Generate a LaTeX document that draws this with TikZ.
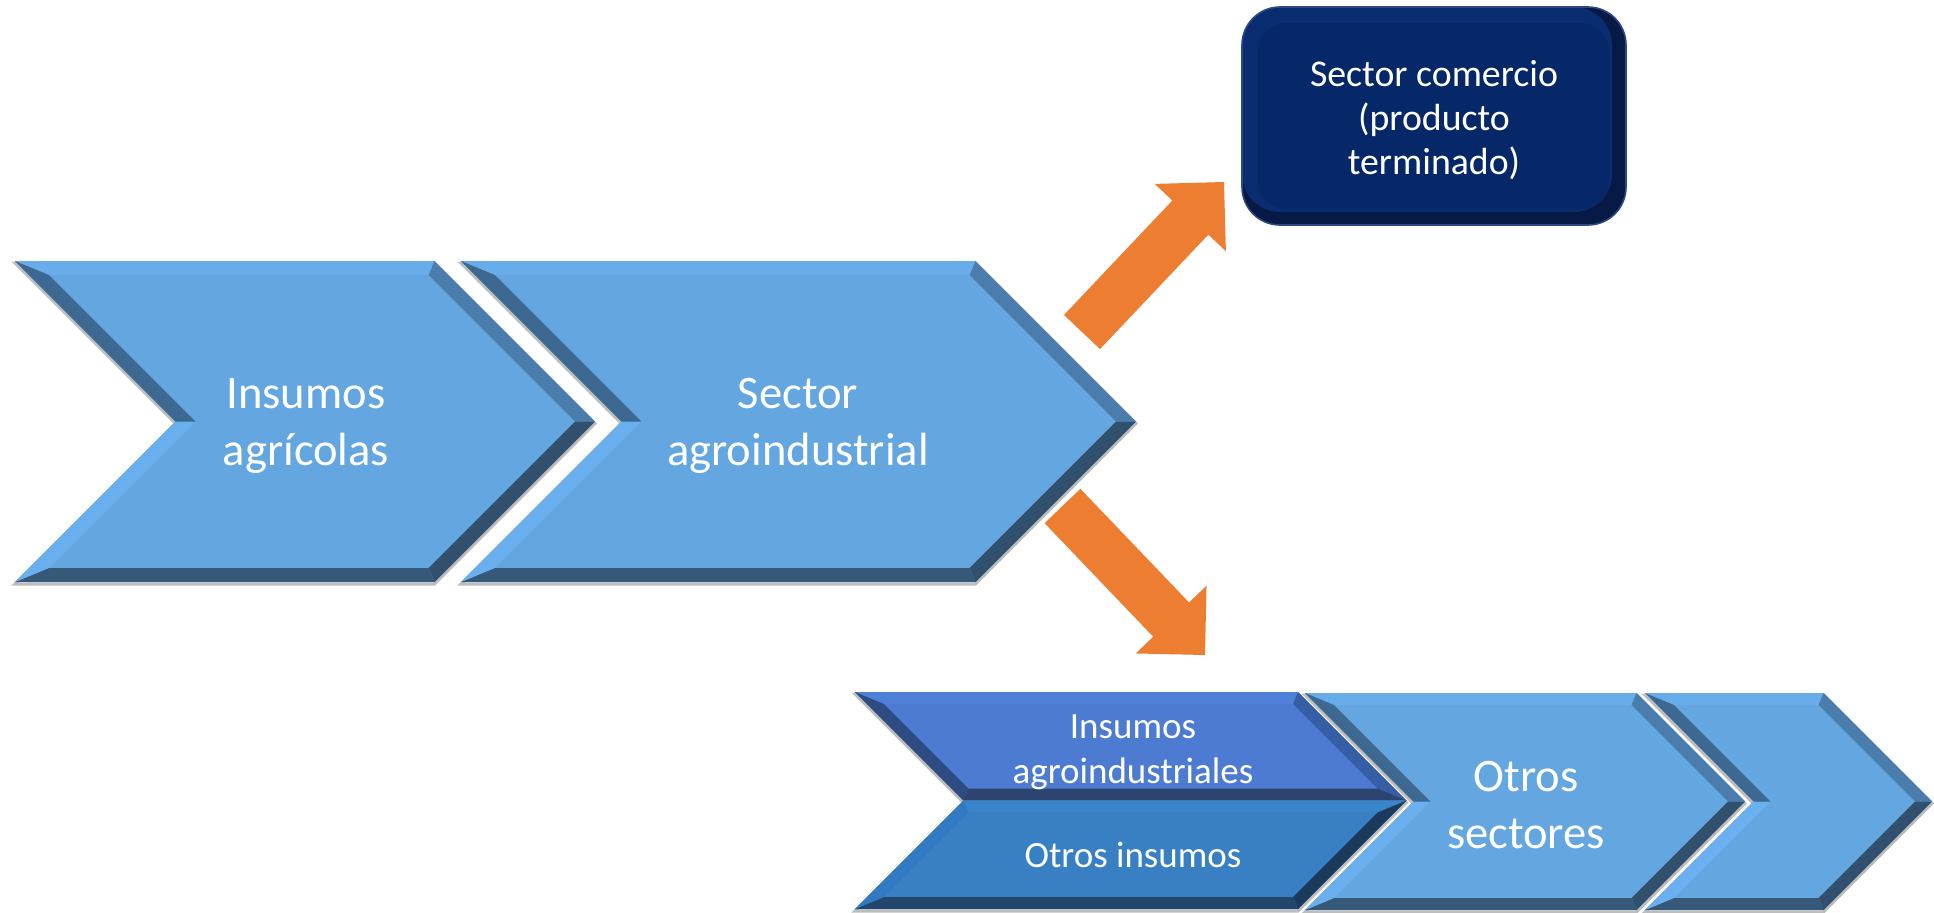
\documentclass[tikz,border=0pt]{standalone}
\usepackage{fontspec}
\setmainfont{Carlito}
\usetikzlibrary{calc}
% light blue chevrons
\definecolor{lbmain}{HTML}{64A6E0}
\definecolor{lbtop}{HTML}{68ADEA}
\definecolor{lbur}{HTML}{4A7DAB}
\definecolor{lblr}{HTML}{30506E}
\definecolor{lbbot}{HTML}{375979}
\definecolor{lbll}{HTML}{6AB0EE}
\definecolor{lbul}{HTML}{3C6891}
% insumos agroindustriales
\definecolor{aimain}{HTML}{4C7BD1}
\definecolor{aitop}{HTML}{5081D8}
\definecolor{aiur}{HTML}{365EA4}
\definecolor{aibot}{HTML}{2D4370}
\definecolor{aiul}{HTML}{2F4C82}
% otros insumos
\definecolor{oimain}{HTML}{3880C3}
\definecolor{oitop}{HTML}{3A84C9}
\definecolor{oilr}{HTML}{1C3A5C}
\definecolor{oibot}{HTML}{22466C}
\definecolor{oill}{HTML}{3179C2}
% box
\definecolor{boxmain}{HTML}{072868}
\definecolor{boxlight}{HTML}{0A2C70}
\definecolor{boxdark}{HTML}{061A45}
\definecolor{boxedge}{HTML}{2B4A80}
\definecolor{arroworange}{HTML}{ED7D31}
\definecolor{shadowgrey}{HTML}{BDBDBD}

\tikzset{
  shadowline/.style={draw=shadowgrey, line width=1.5pt, line join=miter},
  bigtext/.style={text=white, align=center, inner sep=0pt, font=\fontsize{23.3}{28.5}\selectfont},
  smalltext/.style={text=white, align=center, inner sep=0pt, font=\fontsize{18.5}{22.5}\selectfont},
  boxtext/.style={text=white, align=center, inner sep=0pt, font=\fontsize{18.9}{22}\selectfont},
}

% #1 L, #2 T, #3 B, #4 R, #5 bevel, #6 colour prefix
\newcommand{\fullchev}[6]{%
\pgfmathsetmacro{\chvD}{(#3-#2)/2}%
\pgfmathsetmacro{\chvM}{(#3+#2)/2}%
\pgfmathsetmacro{\chvTip}{#4+\chvD}%
\pgfmathsetmacro{\chvNotch}{#1+\chvD}%
\pgfmathsetmacro{\chvA}{#1+2.414*#5}%
\pgfmathsetmacro{\chvB}{#4-0.414*#5}%
\pgfmathsetmacro{\chvC}{\chvTip-1.414*#5}%
\pgfmathsetmacro{\chvE}{\chvNotch+1.414*#5}%
\pgfmathsetmacro{\chvTi}{#2+#5}%
\pgfmathsetmacro{\chvBi}{#3-#5}%
\begin{scope}[shift={(0,2)}]
\draw[shadowline] (#1,#2)--(#4,#2)--(\chvTip,\chvM)--(#4,#3)--(#1,#3)--(\chvNotch,\chvM)--cycle;
\end{scope}
\fill[#6main] (#1,#2)--(#4,#2)--(\chvTip,\chvM)--(#4,#3)--(#1,#3)--(\chvNotch,\chvM)--cycle;
\fill[#6top] (#1,#2)--(#4,#2)--(\chvB,\chvTi)--(\chvA,\chvTi)--cycle;
\fill[#6ur] (#4,#2)--(\chvTip,\chvM)--(\chvC,\chvM)--(\chvB,\chvTi)--cycle;
\fill[#6lr] (\chvTip,\chvM)--(#4,#3)--(\chvB,\chvBi)--(\chvC,\chvM)--cycle;
\fill[#6bot] (#4,#3)--(#1,#3)--(\chvA,\chvBi)--(\chvB,\chvBi)--cycle;
\fill[#6ll] (#1,#3)--(\chvNotch,\chvM)--(\chvE,\chvM)--(\chvA,\chvBi)--cycle;
\fill[#6ul] (\chvNotch,\chvM)--(#1,#2)--(\chvA,\chvTi)--(\chvE,\chvM)--cycle;
}

% split chevron: #6 upper prefix, #7 lower prefix
\newcommand{\halfpair}[7]{%
\pgfmathsetmacro{\chvD}{(#3-#2)/2}%
\pgfmathsetmacro{\chvM}{(#3+#2)/2}%
\pgfmathsetmacro{\chvTip}{#4+\chvD}%
\pgfmathsetmacro{\chvNotch}{#1+\chvD}%
\pgfmathsetmacro{\chvA}{#1+2.414*#5}%
\pgfmathsetmacro{\chvB}{#4-0.414*#5}%
\pgfmathsetmacro{\chvC}{\chvTip-2.414*#5}%
\pgfmathsetmacro{\chvE}{\chvNotch+0.414*#5}%
\pgfmathsetmacro{\chvTi}{#2+#5}%
\pgfmathsetmacro{\chvBi}{#3-#5}%
\pgfmathsetmacro{\chvMu}{\chvM-#5}%
\pgfmathsetmacro{\chvMd}{\chvM+#5}%
\begin{scope}[shift={(0,2)}]
\draw[shadowline] (#1,#2)--(#4,#2)--(\chvTip,\chvM)--(#4,#3)--(#1,#3)--(\chvNotch,\chvM)--cycle;
\end{scope}
% upper half
\fill[#6main] (#1,#2)--(#4,#2)--(\chvTip,\chvM)--(\chvNotch,\chvM)--cycle;
\fill[#6top] (#1,#2)--(#4,#2)--(\chvB,\chvTi)--(\chvA,\chvTi)--cycle;
\fill[#6ur] (#4,#2)--(\chvTip,\chvM)--(\chvC,\chvMu)--(\chvB,\chvTi)--cycle;
\fill[#6bot] (\chvTip,\chvM)--(\chvNotch,\chvM)--(\chvE,\chvMu)--(\chvC,\chvMu)--cycle;
\fill[#6ul] (\chvNotch,\chvM)--(#1,#2)--(\chvA,\chvTi)--(\chvE,\chvMu)--cycle;
% lower half
\fill[#7main] (\chvNotch,\chvM)--(\chvTip,\chvM)--(#4,#3)--(#1,#3)--cycle;
\fill[#7top] (\chvNotch,\chvM)--(\chvTip,\chvM)--(\chvC,\chvMd)--(\chvE,\chvMd)--cycle;
\fill[#7lr] (\chvTip,\chvM)--(#4,#3)--(\chvB,\chvBi)--(\chvC,\chvMd)--cycle;
\fill[#7bot] (#4,#3)--(#1,#3)--(\chvA,\chvBi)--(\chvB,\chvBi)--cycle;
\fill[#7ll] (#1,#3)--(\chvNotch,\chvM)--(\chvE,\chvMd)--(\chvA,\chvBi)--cycle;
}

% block arrow from tail coordinate #1 to head coordinate #2
\newcommand{\blockarrow}[2]{%
\coordinate (#1neck) at ($(#2)!24.5pt!(#1)$);
\fill[arroworange] ($(#1)!12.4pt!90:(#2)$) -- ($(#1neck)!12.4pt!-90:(#1)$)
  -- ($(#1neck)!24.5pt!-90:(#1)$) -- (#2) -- ($(#1neck)!24.5pt!90:(#1)$)
  -- ($(#1neck)!12.4pt!90:(#1)$) -- ($(#1)!12.4pt!-90:(#2)$) -- cycle;
}

\begin{document}
\begin{tikzpicture}[x=0.5pt,y=-0.5pt]
\useasboundingbox (0,0) rectangle (1934,912);

% top row
\fullchev{15}{261}{582}{434.5}{14}{lb}
\fullchev{461}{261}{582}{975.5}{14}{lb}
\node[bigtext] (agricolas) at (306,426) {Insumos\\agrícolas};
\node[bigtext] (agroind) at (798,426) {Sector\\agroindustrial};

% commerce box
\fill[boxdark, rounded corners=19pt] (1242,7) rectangle (1626,225);
\fill[boxlight, rounded corners=19pt] (1242,7) rectangle (1612,212);
\fill[boxmain, rounded corners=14pt] (1258,23) rectangle (1609,209);
\draw[boxedge, line width=0.8pt, rounded corners=19pt] (1242,7) rectangle (1626,225);
\node[boxtext] (comercio) at (1434,120) {Sector comercio\\(producto\\terminado)};

% arrows
\coordinate (upT) at (1082,332);
\coordinate (upH) at (1224,182);
\coordinate (dnT) at (1062.5,506);
\coordinate (dnH) at (1205,655);
\blockarrow{upT}{upH}
\blockarrow{dnT}{dnH}

% bottom row
\halfpair{855}{692}{909}{1298}{12}{ai}{oi}
\fullchev{1305}{693}{910}{1636.5}{12}{lb}
\fullchev{1645}{693}{910}{1823.5}{12}{lb}
\node[smalltext] (insagro) at (1133,752) {Insumos\\agroindustriales};
\node[smalltext] (otrosins) at (1133,855) {Otros insumos};
\node[bigtext] (otrossec) at (1526,805) {Otros\\sectores};
\end{tikzpicture}
\end{document}
